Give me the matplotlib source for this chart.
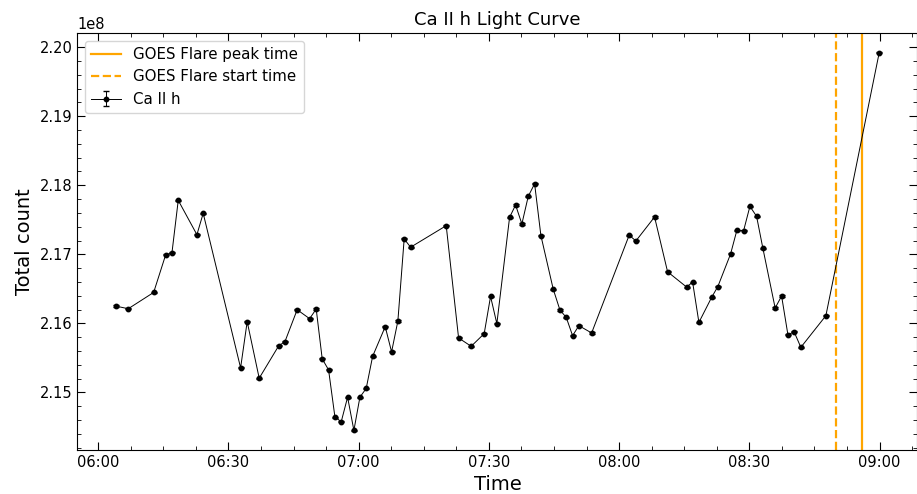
import numpy as np
import pandas as pd
import matplotlib
matplotlib.use('Agg')
from matplotlib import pyplot as plt
import matplotlib.dates as mdates
from matplotlib.ticker import AutoMinorLocator

# Ca II h light curve, times of the observations (UT)
times = ['06:04:01', '06:06:55', '06:12:46', '06:15:32', '06:16:59', '06:18:26',
         '06:22:44', '06:24:11', '06:32:48', '06:34:19', '06:37:05', '06:41:34',
         '06:43:01', '06:45:50', '06:48:42', '06:50:13', '06:51:36', '06:53:04',
         '06:54:32', '06:55:59', '06:57:27', '06:58:54', '07:00:17', '07:01:44',
         '07:03:13', '07:06:07', '07:07:35', '07:09:02', '07:10:29', '07:11:58',
         '07:20:10', '07:23:01', '07:25:55', '07:28:55', '07:30:23', '07:31:50',
         '07:34:46', '07:36:09', '07:37:36', '07:39:04', '07:40:32', '07:41:59',
         '07:44:49', '07:46:22', '07:47:49', '07:49:17', '07:50:44', '07:53:40',
         '08:02:19', '08:03:52', '08:08:10', '08:11:10', '08:15:33', '08:16:56',
         '08:18:23', '08:21:18', '08:22:45', '08:25:41', '08:27:08', '08:28:41',
         '08:30:08', '08:31:40', '08:33:07', '08:35:57', '08:37:26', '08:38:53',
         '08:40:20', '08:41:52', '08:47:38', '08:59:55']

# total counts in units of 1e8
counts = [2.16251, 2.16212, 2.16448, 2.16992, 2.17021, 2.17782,
          2.17285, 2.17594, 2.15356, 2.16025, 2.15206, 2.15674,
          2.15736, 2.16198, 2.16068, 2.16208, 2.15486, 2.15327,
          2.14643, 2.14576, 2.14931, 2.14450, 2.14931, 2.15057,
          2.15523, 2.15952, 2.15587, 2.16035, 2.17223, 2.17103,
          2.17415, 2.15789, 2.15668, 2.15851, 2.16390, 2.15996,
          2.17536, 2.17714, 2.17440, 2.17840, 2.18022, 2.17271,
          2.16497, 2.16193, 2.16087, 2.15822, 2.15967, 2.15861,
          2.17277, 2.17194, 2.17541, 2.16747, 2.16526, 2.16598,
          2.16014, 2.16375, 2.16534, 2.17006, 2.17349, 2.17343,
          2.17695, 2.17551, 2.17089, 2.16222, 2.16396, 2.15837,
          2.15876, 2.15653, 2.16111, 2.19919]

count_err = 8e3  # counting error, too small to see at this scale

flare_start = '08:50:00'
flare_peak = '08:56:00'

day = '2014-03-29 '
t = pd.to_datetime([day + s for s in times])
y = np.array(counts) * 1e8

fig = plt.figure(figsize=(9.17, 4.94), dpi=100)
ax = fig.add_axes([0.0845, 0.0893, 0.9159, 0.8433])

ax.axvline(pd.to_datetime(day + flare_peak), color='orange', lw=1.6,
           label='GOES Flare peak time')
ax.axvline(pd.to_datetime(day + flare_start), color='orange', lw=1.6, ls='--',
           label='GOES Flare start time')
ax.errorbar(t, y, yerr=count_err, fmt='o-', color='k', ms=3.2, lw=0.7,
            elinewidth=0.7, capsize=2, label='Ca II h')

ax.xaxis.set_major_locator(mdates.MinuteLocator(byminute=[0, 30]))
ax.xaxis.set_major_formatter(mdates.DateFormatter('%H:%M'))
ax.xaxis.set_minor_locator(AutoMinorLocator(4))
ax.yaxis.set_minor_locator(AutoMinorLocator(5))
ax.ticklabel_format(axis='y', style='sci', scilimits=(0, 0), useOffset=False)
ax.tick_params(which='both', direction='in', top=True, right=True, labelsize=10.5)
ax.tick_params(which='major', length=5.5)
ax.tick_params(which='minor', length=2.8)
ax.yaxis.get_offset_text().set_fontsize(10.5)

ax.set_title('Ca II h Light Curve', fontsize=13)
ax.set_xlabel('Time', fontsize=14)
ax.set_ylabel('Total count', fontsize=14)
ax.legend(loc='upper left', fontsize=10.8)

fig.savefig('out.png', dpi=100)
